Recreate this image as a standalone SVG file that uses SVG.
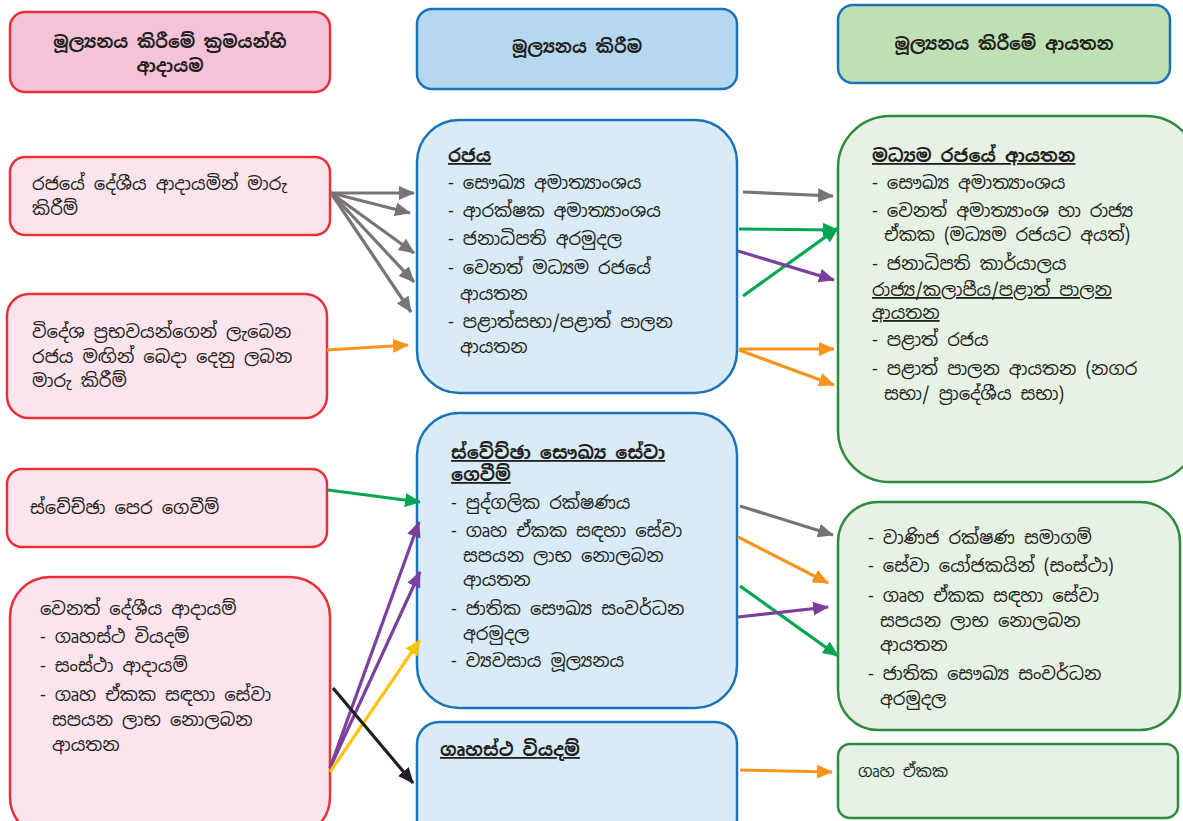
<svg xmlns="http://www.w3.org/2000/svg" width="1183" height="821" viewBox="0 0 1183 821">
<defs>
<style>
text{font-family:"Noto Sans Sinhala","Noto Sans","DejaVu Sans",sans-serif;font-size:18px;fill:#231f20}
.b{font-weight:bold}
.h{font-size:17.5px}
.u{text-decoration:underline}
.c{text-anchor:middle}
.red rect{fill:#fce4ee;stroke:#e8303a;stroke-width:2.5}
.redh rect{fill:#f5c3d9;stroke:#e8303a;stroke-width:2.5}
.blu rect{fill:#d8ebf6;stroke:#1a73b8;stroke-width:2.5}
.bluh rect{fill:#b5d8ef;stroke:#1a73b8;stroke-width:2.5}
.grn rect{fill:#e6f2e4;stroke:#2e8b3e;stroke-width:2.5}
.grnh rect{fill:#bfdfb5;stroke:#1a73b8;stroke-width:2.5}
.ln{fill:none;stroke-width:3.2}
.gy{stroke:#787474}.or{stroke:#f7941d}.gr{stroke:#00a651}.pu{stroke:#7b3f9e}.ye{stroke:#ffc20e}.bk{stroke:#231f20}
</style>
<marker id="mgy" markerWidth="16" markerHeight="14" refX="15" refY="7" orient="auto" markerUnits="userSpaceOnUse"><path d="M0,0L16,7L0,14z" fill="#787474"/></marker>
<marker id="mor" markerWidth="16" markerHeight="14" refX="15" refY="7" orient="auto" markerUnits="userSpaceOnUse"><path d="M0,0L16,7L0,14z" fill="#f7941d"/></marker>
<marker id="mgr" markerWidth="16" markerHeight="14" refX="15" refY="7" orient="auto" markerUnits="userSpaceOnUse"><path d="M0,0L16,7L0,14z" fill="#00a651"/></marker>
<marker id="mpu" markerWidth="16" markerHeight="14" refX="15" refY="7" orient="auto" markerUnits="userSpaceOnUse"><path d="M0,0L16,7L0,14z" fill="#7b3f9e"/></marker>
<marker id="mye" markerWidth="16" markerHeight="14" refX="15" refY="7" orient="auto" markerUnits="userSpaceOnUse"><path d="M0,0L16,7L0,14z" fill="#ffc20e"/></marker>
<marker id="mbk" markerWidth="16" markerHeight="14" refX="15" refY="7" orient="auto" markerUnits="userSpaceOnUse"><path d="M0,0L16,7L0,14z" fill="#231f20"/></marker>
</defs>
<rect width="1183" height="821" fill="#ffffff"/>

<g id="hdr-left" class="redh"><rect x="10" y="12" width="320" height="80" rx="15"/>
<text class="b c h" x="170" y="48">මූල්‍යනය කිරීමේ ක්‍රමයන්හි</text>
<text class="b c h" x="170" y="72">ආදායම</text></g>

<g id="hdr-mid" class="bluh"><rect x="417" y="9" width="320" height="80" rx="15"/>
<text class="b c h" x="577" y="53">මූල්‍යනය කිරීම</text></g>

<g id="hdr-right" class="grnh"><rect x="838" y="5" width="332" height="78" rx="15"/>
<text class="b c h" x="1004" y="50">මූල්‍යනය කිරීමේ ආයතන</text></g>

<g id="src1" class="red"><rect x="10" y="157" width="320" height="78" rx="15"/>
<text x="32" y="190">රජයේ දේශීය ආදායමින් මාරු</text>
<text x="32" y="215">කිරීම්</text></g>

<g id="src2" class="red"><rect x="7" y="294" width="320" height="124" rx="22"/>
<text x="32" y="338">විදේශ ප්‍රභවයන්ගෙන් ලැබෙන</text>
<text x="32" y="363">රජය මඟින් බෙදා දෙනු ලබන</text>
<text x="32" y="387">මාරු කිරීම්</text></g>

<g id="src3" class="red"><rect x="7" y="469" width="320" height="78" rx="15"/>
<text x="30" y="514">ස්වේච්ඡා පෙර ගෙවීම්</text></g>

<g id="src4" class="red"><rect x="10" y="577" width="320" height="260" rx="40"/>
<text x="40" y="615">වෙනත් දේශීය ආදායම්</text>
<text x="40" y="643">- ගෘහස්ථ වියදම්</text>
<text x="40" y="672">- සංස්ථා ආදායම්</text>
<text x="40" y="701">- ගෘහ ඒකක සඳහා සේවා</text>
<text x="52" y="726">සපයන ලාභ නොලබන</text>
<text x="52" y="751">ආයතන</text></g>

<g id="fin1" class="blu"><rect x="417" y="120" width="320" height="273" rx="42"/>
<text class="b u" x="448" y="162">රජය</text>
<text x="448" y="189">- සෞඛ්‍ය අමාත්‍යාංශය</text>
<text x="448" y="217">- ආරක්ෂක අමාත්‍යාංශය</text>
<text x="448" y="245">- ජනාධිපති අරමුදල</text>
<text x="448" y="274">- වෙනත් මධ්‍යම රජයේ</text>
<text x="460" y="300">ආයතන</text>
<text x="448" y="328">- පළාත්සභා/පළාත් පාලන</text>
<text x="460" y="353">ආයතන</text></g>

<g id="fin2" class="blu"><rect x="417" y="413" width="320" height="295" rx="42"/>
<text class="b u" x="451" y="459">ස්වේච්ඡා සෞඛ්‍ය සේවා</text>
<text class="b u" x="451" y="481">ගෙවීම්</text>
<text x="451" y="509">- පුද්ගලික රක්ෂණය</text>
<text x="451" y="537">- ගෘහ ඒකක සඳහා සේවා</text>
<text x="463" y="562">සපයන ලාභ නොලබන</text>
<text x="463" y="586">ආයතන</text>
<text x="451" y="615">- ජාතික සෞඛ්‍ය සංවර්ධන</text>
<text x="463" y="640">අරමුදල</text>
<text x="451" y="667">- ව්‍යවසාය මූල්‍යනය</text></g>

<g id="fin3" class="blu"><rect x="417" y="722" width="320" height="120" rx="22"/>
<text class="b u" x="440" y="756">ගෘහස්ථ වියදම්</text></g>

<g id="inst1" class="grn"><rect x="838" y="116" width="360" height="366" rx="52"/>
<text class="b u" x="872" y="162">මධ්‍යම රජයේ ආයතන</text>
<text x="872" y="189">- සෞඛ්‍ය අමාත්‍යාංශය</text>
<text x="872" y="217">- වෙනත් අමාත්‍යාංශ හා රාජ්‍ය</text>
<text x="884" y="241">ඒකක (මධ්‍යම රජයට අයත්)</text>
<text x="872" y="270">- ජනාධිපති කාර්යාලය</text>
<text class="u" x="872" y="296">රාජ්‍ය/කලාපීය/පළාත් පාලන</text>
<text class="u" x="872" y="319">ආයතන</text>
<text x="872" y="346">- පළාත් රජය</text>
<text x="872" y="375">- පළාත් පාලන ආයතන (නගර</text>
<text x="884" y="400">සභා/ ප්‍රාදේශීය සභා)</text></g>

<g id="inst2" class="grn"><rect x="838" y="502" width="342" height="228" rx="40"/>
<text x="868" y="544">- වාණිජ රක්ෂණ සමාගම්</text>
<text x="868" y="572">- සේවා යෝජකයින් (සංස්ථා)</text>
<text x="868" y="602">- ගෘහ ඒකක සඳහා සේවා</text>
<text x="880" y="627">සපයන ලාභ නොලබන</text>
<text x="880" y="651">ආයතන</text>
<text x="868" y="680">- ජාතික සෞඛ්‍ය සංවර්ධන</text>
<text x="880" y="705">අරමුදල</text></g>

<g id="inst3" class="grn"><rect x="838" y="744" width="340" height="74" rx="12"/>
<text x="858" y="777" style="font-size:16px">ගෘහ ඒකක</text></g>

<g id="connectors">
<line class="ln gy" x1="331" y1="193" x2="414" y2="193" marker-end="url(#mgy)"/>
<line class="ln gy" x1="331" y1="193" x2="410" y2="213" marker-end="url(#mgy)"/>
<line class="ln gy" x1="331" y1="193" x2="414" y2="253" marker-end="url(#mgy)"/>
<line class="ln gy" x1="331" y1="193" x2="414" y2="282" marker-end="url(#mgy)"/>
<line class="ln gy" x1="331" y1="193" x2="411" y2="312" marker-end="url(#mgy)"/>
<line class="ln or" x1="327" y1="350" x2="408" y2="345" marker-end="url(#mor)"/>
<line class="ln gy" x1="743" y1="192" x2="833" y2="196" marker-end="url(#mgy)"/>
<line class="ln gr" x1="739" y1="229" x2="838" y2="230" marker-end="url(#mgr)"/>
<line class="ln gr" x1="743" y1="296" x2="838" y2="228" marker-end="url(#mgr)"/>
<line class="ln pu" x1="738" y1="251" x2="834" y2="280" marker-end="url(#mpu)"/>
<line class="ln or" x1="739" y1="349" x2="834" y2="349" marker-end="url(#mor)"/>
<line class="ln or" x1="739" y1="350" x2="834" y2="385" marker-end="url(#mor)"/>
<line class="ln gr" x1="328" y1="490" x2="420" y2="502" marker-end="url(#mgr)"/>
<line class="ln pu" x1="330" y1="768" x2="419" y2="522" marker-end="url(#mpu)"/>
<line class="ln pu" x1="330" y1="768" x2="420" y2="572" marker-end="url(#mpu)"/>
<line class="ln ye" x1="330" y1="772" x2="420" y2="640" marker-end="url(#mye)"/>
<line class="ln bk" x1="333" y1="688" x2="413" y2="783" marker-end="url(#mbk)"/>
<line class="ln gy" x1="740" y1="506" x2="833" y2="535" marker-end="url(#mgy)"/>
<line class="ln or" x1="738" y1="537" x2="828" y2="583" marker-end="url(#mor)"/>
<line class="ln gr" x1="740" y1="586" x2="838" y2="656" marker-end="url(#mgr)"/>
<line class="ln pu" x1="738" y1="617" x2="828" y2="607" marker-end="url(#mpu)"/>
<line class="ln or" x1="740" y1="770" x2="832" y2="772" marker-end="url(#mor)"/>
</g>
</svg>
